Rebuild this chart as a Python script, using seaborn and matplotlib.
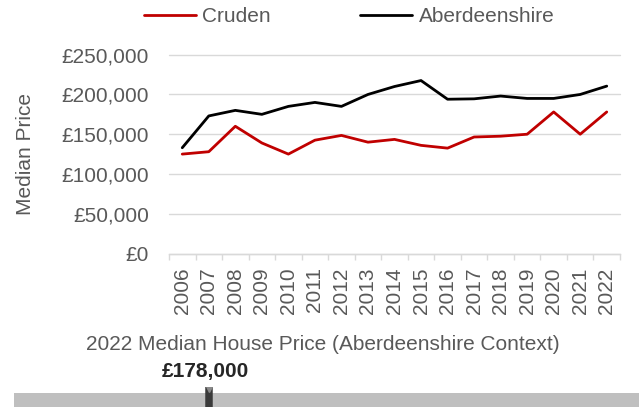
import matplotlib
matplotlib.use("Agg")
import matplotlib.pyplot as plt
import matplotlib.ticker as mticker
import seaborn as sns
import pandas as pd

years = list(range(2006, 2023))
cruden = [125000, 128000, 160000, 139000, 125000, 142500, 148500, 140000, 143500,
          136000, 132500, 146500, 147500, 150000, 178000, 150000, 178000]
aberdeenshire = [133000, 173000, 180000, 175000, 185000, 190000, 185000, 200000, 210000,
                 217500, 194000, 194500, 198000, 195000, 195000, 200000, 210500]
series_names = ["Cruden", "Aberdeenshire"]
series_colors = ["#c00000", "#000000"]

# gauge for 2022 context
gauge_value = 178000
gauge_range = (50000, 460000)

sns.set_theme(style="white")
plt.rcParams["font.family"] = ["Liberation Sans", "DejaVu Sans"]
grey_txt = "#595959"
fs = 15

df = pd.DataFrame({
    "Year": years * 2,
    "Price": cruden + aberdeenshire,
    "Area": [series_names[0]] * len(years) + [series_names[1]] * len(years),
})

W, H = 639, 407
fig = plt.figure(figsize=(W / 100, H / 100), dpi=100)
ax = fig.add_axes([169 / W, 1 - 253.5 / H, (620 - 169) / W, (253.5 - 54.7) / H])

sns.lineplot(data=df, x="Year", y="Price", hue="Area", palette=series_colors,
             hue_order=series_names, linewidth=2.0, ax=ax, legend=False)

ax.set_xlim(years[0] - 0.5, years[-1] + 0.5)
ax.set_ylim(0, 250000)
ax.yaxis.set_major_locator(mticker.MultipleLocator(50000))
ax.yaxis.set_major_formatter(mticker.FuncFormatter(lambda v, p: f"£{v:,.0f}"))
ax.set_xticks(years)
ax.set_xticklabels([str(y) for y in years], rotation=90)
ax.set_xticks([y - 0.5 for y in years] + [years[-1] + 0.5], minor=True)
ax.tick_params(axis="x", which="major", length=0, pad=10, labelsize=fs, colors=grey_txt)
ax.tick_params(axis="x", which="minor", length=4, width=1, color="#d9d9d9", bottom=True)
ax.tick_params(axis="y", length=0, pad=14.5, labelsize=fs, colors=grey_txt)
ax.grid(axis="y", color="#d9d9d9", linewidth=1)
for g in ax.get_ygridlines():
    g.set_clip_on(False)
for s in ["top", "right", "left"]:
    ax.spines[s].set_visible(False)
ax.spines["bottom"].set_color("#d9d9d9")
ax.spines["bottom"].set_linewidth(1)
ax.set_xlabel("")
ax.set_ylabel("Median Price", fontsize=fs, color=grey_txt)
ax.yaxis.set_label_coords(-134 / 451, 0.5)

fig.legend(handles=ax.get_lines()[:2], labels=series_names, loc="center",
           bbox_to_anchor=(349 / W, 1 - 17 / H), ncol=2, frameon=False,
           fontsize=fs, labelcolor=grey_txt, handlelength=2.5, columnspacing=4.3,
           handletextpad=0.3)

fig.text(323 / W, 1 - 350 / H, "2022 Median House Price (Aberdeenshire Context)",
         ha="center", va="baseline", fontsize=fs, color=grey_txt)

# gauge bar
gx = fig.add_axes([14 / W, 0, (W - 14) / W, 20.5 / H])
gx.set_xlim(*gauge_range)
gx.set_ylim(0, 1)
gx.axhspan(0, 14.5 / 20.5, color="#bfbfbf", lw=0)
gx.vlines(gauge_value, 0, 1, color="#3a3a3a", linewidth=5.4)
gx.plot([gauge_value], [0.88], marker="v", color="#8a8a8a", markersize=5, lw=0)
gx.axis("off")
gx.annotate(f"£{gauge_value:,.0f}", xy=(gauge_value, 1), xycoords="data",
            xytext=(-3, 7), textcoords="offset points", ha="center", va="baseline",
            fontsize=fs, fontweight="bold", color="#262626", annotation_clip=False)

fig.savefig("out.png", dpi=100, facecolor="white")
